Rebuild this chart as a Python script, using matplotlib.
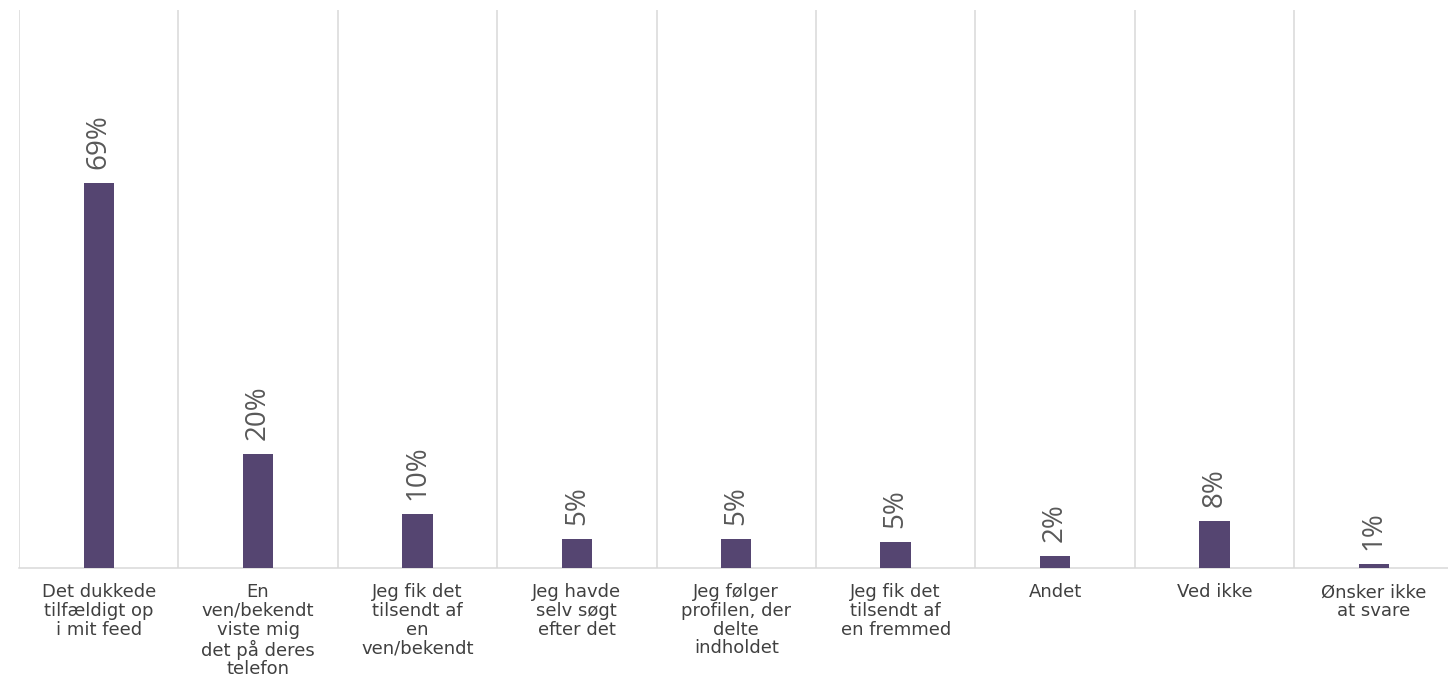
import numpy as np
import matplotlib.pyplot as plt

# =========================================================
# DATA
# =========================================================

categories = [
    "Det dukkede\ntilfældigt op\ni mit feed",
    "En\nven/bekendt\nviste mig\ndet på deres\ntelefon",
    "Jeg fik det\ntilsendt af\nen\nven/bekendt",
    "Jeg havde\nselv søgt\nefter det",
    "Jeg følger\nprofilen, der\ndelte\nindholdet",
    "Jeg fik det\ntilsendt af\nen fremmed",
    "Andet",
    "Ved ikke",
    "Ønsker ikke\nat svare",
]
shares = [69.0, 20.4, 9.7, 5.2, 5.2, 4.7, 2.1, 8.4, 0.7]

bar_color = "#554571"
grid_color = "#d9d9d9"
label_color = "#595959"
tick_color = "#404040"

# =========================================================
# FIGURE
# =========================================================

fig = plt.figure(figsize=(14.48, 6.91), dpi=100)
ax = fig.add_axes([0.0131, 0.178, 0.9907, 0.8075])

x = np.arange(len(categories))
bars = ax.bar(x, shares, width=0.19, color=bar_color, zorder=3)

ax.set_xlim(-0.5, len(categories) - 0.5)
ax.set_ylim(0, 100)

# vertical separators between categories
for edge in np.arange(-0.5, len(categories) + 0.5, 1):
    ax.axvline(edge, color=grid_color, linewidth=1.1, zorder=1)

for s in ["top", "right", "left"]:
    ax.spines[s].set_visible(False)
ax.spines["bottom"].set_color(grid_color)
ax.spines["bottom"].set_linewidth(1.1)

ax.set_yticks([])
ax.set_xticks(x)
ax.set_xticklabels(categories, fontsize=13, color=tick_color,
                   family="DejaVu Sans", linespacing=1.05)
ax.tick_params(axis="x", length=0, pad=11)

# value labels above the bars
for rect, val in zip(bars, shares):
    ax.annotate(f"{val:.0f}%",
                xy=(rect.get_x() + rect.get_width() / 2, rect.get_height()),
                xytext=(0, 10), textcoords="offset points",
                rotation=90, ha="center", va="bottom",
                fontsize=20, color=label_color, family="Open Sans")

fig.savefig("out.png", dpi=100)
